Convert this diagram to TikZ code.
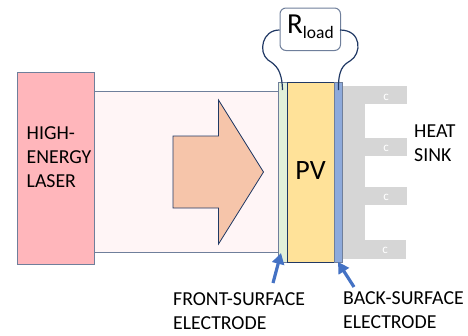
\documentclass[tikz,border=0pt]{standalone}
\usepackage{fontspec}
\setmainfont{Carlito}
\usetikzlibrary{arrows.meta}
\definecolor{edgeblue}{HTML}{6F7F9B}
\definecolor{darkline}{HTML}{203864}
\definecolor{arrowblue}{HTML}{4472C4}
\definecolor{sinkgray}{HTML}{D6D6D6}
\tikzset{
 box/.style={draw=edgeblue,line width=1pt,inner sep=0pt,anchor=north west},
 lbl/.style={font=\fontsize{19.8}{24}\selectfont,align=left,text=black,inner sep=0pt,anchor=north west},
 fin/.style={fill=sinkgray,draw=none,inner sep=0pt,anchor=north west,minimum height=18pt},
 finc/.style={text=white,font=\fontsize{13}{13}\selectfont,inner sep=0pt},
 wire/.style={draw=darkline,line width=1.2pt},
 pointer/.style={draw=arrowblue,line width=3.2pt,-{Triangle[length=11pt,width=12pt]}}
}
\begin{document}
\begin{tikzpicture}[x=1pt,y=-1pt]
\useasboundingbox (0,0) rectangle (468,335);
% heat sink
\node[fin,minimum width=24pt,minimum height=172.5pt] (sinkbase) at (341,86) {};
\node[fin,minimum width=66pt] (fin1) at (341,86) {};
\node[fin,minimum width=66pt] (fin2) at (341,138) {};
\node[fin,minimum width=66pt] (fin3) at (341,187) {};
\node[fin,minimum width=65pt,minimum height=18.5pt] (fin4) at (341,240) {};
\node[finc] at (386,97) {c};
\node[finc] at (386,148) {c};
\node[finc] at (386,197) {c};
\node[finc] at (385,250) {c};
% beam and laser
\node[box,fill={rgb,255:red,255;green,245;blue,246},minimum width=184pt,minimum height=161pt] (beam) at (94,91) {};
\node[box,fill={rgb,255:red,255;green,182;blue,187},minimum width=77.5pt,minimum height=192pt] (laser) at (16.5,72) {};
\node[lbl] (lasertext) at (26.5,126) {HIGH-\\ENERGY\\LASER};
\draw[draw=darkline,line width=.8pt,fill={rgb,255:red,246;green,197;blue,170}]
 (173,136) -- (218.5,136) -- (218.5,100) -- (263.5,172) -- (218.5,244) -- (218.5,208) -- (173,208) -- cycle;
% cell
\node[box,fill={rgb,255:red,226;green,240;blue,217},minimum width=9pt,minimum height=180pt] (front) at (278,82) {};
\node[box,draw=darkline,fill={rgb,255:red,255;green,226;blue,153},minimum width=47pt,minimum height=180pt] (pv) at (286.5,82) {};
\node[box,fill={rgb,255:red,142;green,170;blue,219},minimum width=8pt,minimum height=180pt] (back) at (333.5,82) {};
\node[font=\fontsize{28}{28}\selectfont,inner sep=0pt] (pvt) at (310.5,171) {PV};
% load
\node[box,draw=edgeblue,fill=white,rounded corners=6pt,minimum width=60.5pt,minimum height=42.5pt] (rload) at (279.5,7.5) {};
\node[inner sep=0pt,anchor=base west] (rt) at (287,33) {\fontsize{29}{29}\selectfont R\raisebox{-5pt}{\fontsize{17.5}{17.5}\selectfont load}};
\coordinate (wl) at (282.5,90);
\coordinate (wr) at (338.5,90);
\draw[wire] (wl) .. controls (282,70) and (276,65) .. (268,60) .. controls (258,52) and (262,30) .. (279.5,30);
\draw[wire] (wr) .. controls (338,70) and (343,65) .. (350,61) .. controls (362,54) and (362,30) .. (340,30);
% labels and arrows
\coordinate (fa) at (273,283);
\coordinate (fb) at (281,253);
\coordinate (ba) at (354,287);
\coordinate (bb) at (338,262);
\draw[pointer] (fa) -- (fb);
\draw[pointer] (ba) -- (bb);
\node[lbl] (hs) at (414,125) {HEAT\\SINK};
\node[lbl] (ft) at (173,292) {FRONT-SURFACE\\ELECTRODE};
\node[lbl] (bt) at (343,291) {BACK-SURFACE\\ELECTRODE};
\end{tikzpicture}
\end{document}
